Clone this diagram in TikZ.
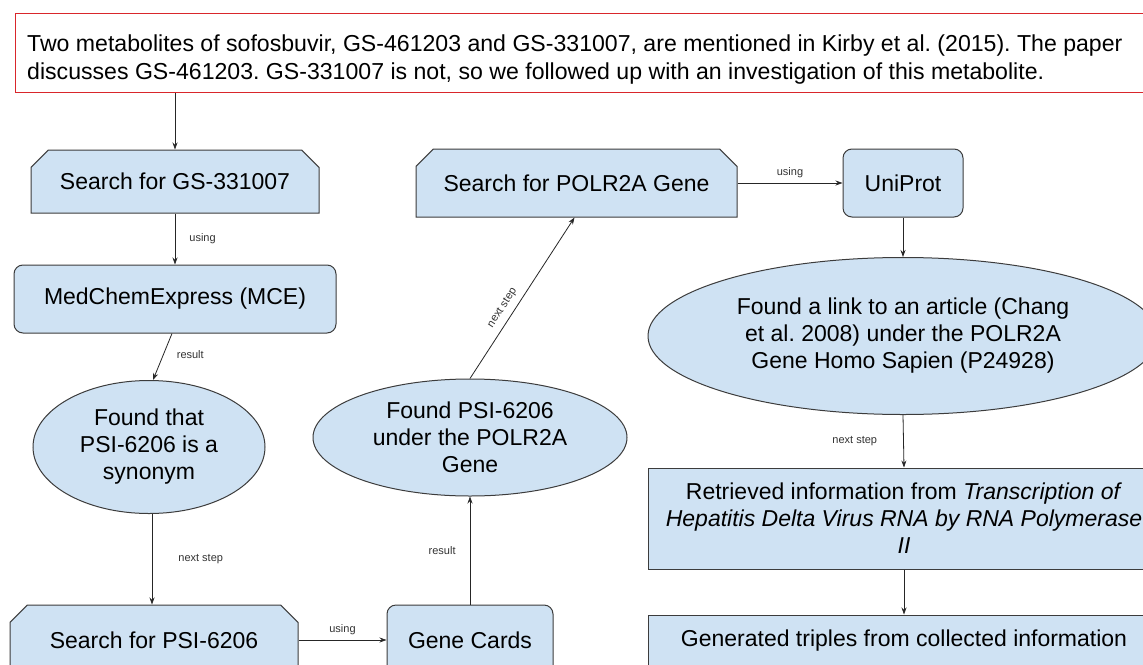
\documentclass[tikz,border=0pt]{standalone}
\usepackage{fontspec}
\setmainfont{Liberation Sans}
\usetikzlibrary{shapes.misc,shapes.geometric,arrows.meta}
\definecolor{boxfill}{HTML}{CFE2F3}
\definecolor{boxline}{HTML}{3C3C3C}
\definecolor{topred}{HTML}{D9262B}
\tikzset{
  base/.style={fill=boxfill, draw=boxline, line width=1pt, font=\fontsize{23}{27}\selectfont, align=center, inner sep=0pt},
  snipbox/.style={base, chamfered rectangle, chamfered rectangle corners={north west,north east}, chamfered rectangle xsep=9pt, chamfered rectangle ysep=9pt},
  roundbox/.style={base, rectangle, rounded corners=9pt},
  plainbox/.style={base, rectangle},
  oval/.style={base, ellipse},
  arr/.style={-{Stealth[length=7pt,width=5pt]}, line width=0.8pt, draw=black!85},
  lbl/.style={font=\fontsize{11}{13}\selectfont, text=black!80, inner sep=2pt}
}
\begin{document}
\frenchspacing
\begin{tikzpicture}[x=1pt,y=-1pt]
\useasboundingbox (0,0) rectangle (1143,664);
\clip (0,0) rectangle (1143,664);
\fill[white] (0,0) rectangle (1143,664);

\node[draw=topred, line width=0.8pt, anchor=north west, minimum width=1150pt, minimum height=79pt] (top) at (15,13) {};
\node[anchor=west, inner sep=0pt, align=left, font=\fontsize{23.1}{28}\selectfont] (toptext) at (27,59.5) {Two metabolites of sofosbuvir, GS-461203 and GS-331007, are mentioned in Kirby et al. (2015). The paper\\discusses GS-461203. GS-331007 is not, so we followed up with an investigation of this metabolite.};

\node[snipbox, minimum width=288pt, minimum height=63pt] (sgs) at (175,181.5) {Search for GS-331007};
\node[roundbox, minimum width=322pt, minimum height=68pt] (mce) at (175,299) {MedChemExpress (MCE)};
\node[oval, minimum width=232pt, minimum height=133pt] (syn) at (149,447) {Found that\\PSI-6206 is a\\synonym};
\node[snipbox, minimum width=288pt, minimum height=70pt] (psi) at (154,640) {Search for PSI-6206};
\node[roundbox, minimum width=166pt, minimum height=70pt] (gc) at (470,640) {Gene Cards};
\node[oval, minimum width=314pt, minimum height=117pt] (fpsi) at (470,437.5) {Found PSI-6206\\under the POLR2A\\Gene};
\node[snipbox, minimum width=321pt, minimum height=68pt] (polr) at (576.5,183) {Search for POLR2A Gene};
\node[roundbox, minimum width=120pt, minimum height=68pt] (uni) at (903,183) {UniProt};
\node[oval, minimum width=510pt, minimum height=157pt] (chang) at (903,336) {Found a link to an article (Chang\\et al. 2008) under the POLR2A\\Gene Homo Sapien (P24928)};
\node[plainbox, minimum width=512pt, minimum height=101pt] (ret) at (904,518.5) {Retrieved information from \textit{Transcription of}\\\textit{Hepatitis Delta Virus RNA by RNA Polymerase}\\\textit{II}};
\node[plainbox, minimum width=512pt, text height=31pt, text depth=30pt, anchor=base] (gen) at (904,646) {Generated triples from collected information};

\draw[arr] (top.south -| sgs.north) -- (sgs.north);
\draw[arr] (sgs.south) -- node[lbl, right, xshift=12pt] {using} (mce.north);
\draw[arr] ([xshift=-3pt]mce.south) -- node[lbl, right, xshift=11pt, pos=0.45] {result} ([xshift=4pt]syn.north);
\draw[arr] ([xshift=3pt]syn.south) -- node[lbl, right, xshift=24pt] {next step} ([xshift=3pt]syn.south |- psi.north);
\draw[arr] (psi.east) -- node[lbl, above, yshift=3pt] {using} (gc.west);
\draw[arr] (gc.north) -- node[lbl, left, xshift=-12pt] {result} (fpsi.south);
\draw[arr] (fpsi.north) -- node[lbl, sloped, above, pos=0.4, yshift=4pt] {next step} ([xshift=-2pt]polr.south);
\draw[arr] (polr.east) -- node[lbl, above, yshift=3pt] {using} (uni.west);
\draw[arr] (uni.south) -- (chang.north);
\draw[arr] (chang.south) -- node[lbl, left, xshift=-24pt] {next step} (ret.north);
\draw[arr] (ret.south) -- (gen.north);
\end{tikzpicture}
\end{document}
